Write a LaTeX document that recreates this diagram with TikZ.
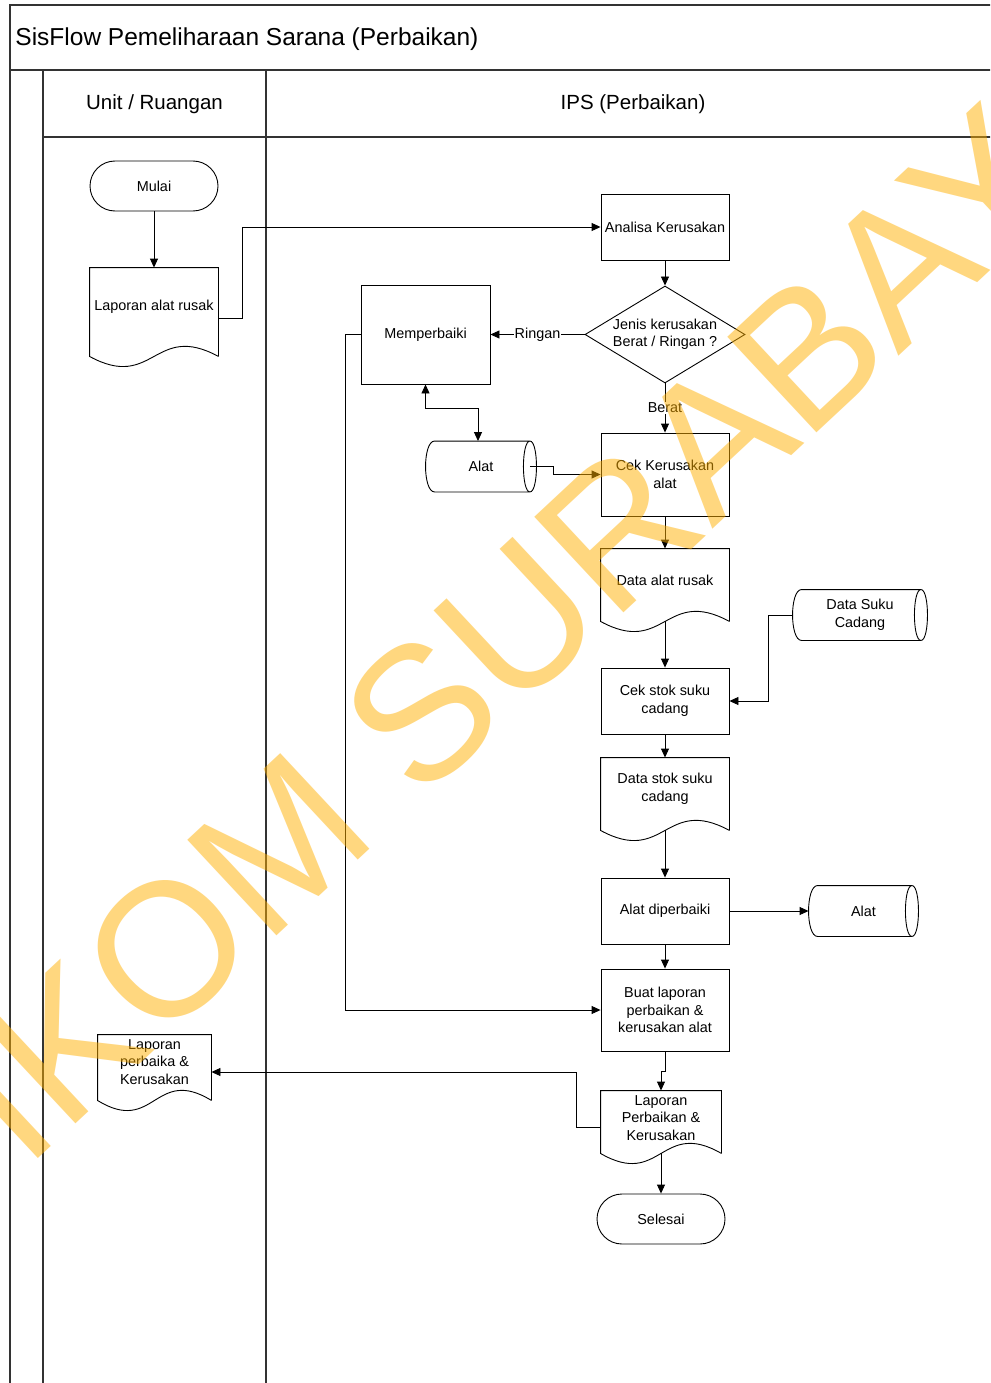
\documentclass[tikz,border=0pt]{standalone}
\usepackage{fontspec}
\setmainfont{Liberation Sans}
\usetikzlibrary{shapes.geometric, arrows.meta, calc}

\definecolor{wmyellow}{RGB}{255,176,0}

\tikzset{
  lane/.style={draw=black!80, line width=1.2pt},
  proc/.style={draw, rectangle, minimum width=128pt, align=center, inner sep=2pt},
  term/.style={draw, rectangle, rounded corners=25pt, minimum width=128pt, minimum height=50pt},
  doc/.style={rectangle, minimum width=128pt, align=center, inner sep=2pt},
  store/.style={rectangle, align=center, minimum height=50pt, inner sep=0pt},
  decide/.style={draw, diamond, aspect=1.65, inner sep=0pt, minimum width=160pt, minimum height=97pt, align=center},
  arr/.style={-{Triangle[length=9pt,width=8pt]}},
  darr/.style={{Triangle[length=9pt,width=8pt]}-{Triangle[length=9pt,width=8pt]}},
  lbl/.style={fill=white, inner sep=1pt},
  wm/.style={text=wmyellow, text opacity=0.5, inner sep=0pt, font=\fontsize{190}{190}\selectfont}
}

% document outline, wavy bottom (#1 = sides below the node)
\newcommand{\docshape}[2][0]{%
  \draw ($(#2.south east)+(0,#1)$) -- (#2.north east) -- (#2.north west) -- ($(#2.south west)+(0,#1)$)
    .. controls ($(#2.south)+(0,#1+35)$) and ($(#2.south)+(0,#1-35)$) .. ($(#2.south east)+(0,#1)$);}
% stored data outline
\newcommand{\storeshape}[1]{%
  \draw ($(#1.north west)+(9,0)$) -- ($(#1.north east)+(-6.5,0)$)
        ($(#1.south west)+(9,0)$) -- ($(#1.south east)+(-6.5,0)$)
        ($(#1.north west)+(9,0)$) .. controls +(-12,0) and +(-12,0) .. ($(#1.south west)+(9,0)$)
        ($(#1.north east)+(-6.5,0)$) .. controls +(8.7,0) and +(8.7,0) .. ($(#1.south east)+(-6.5,0)$)
          .. controls +(-8.7,0) and +(-8.7,0) .. ($(#1.north east)+(-6.5,0)$);}

\begin{document}
\begin{tikzpicture}[x=1pt, y=-1pt, line width=0.9pt, font=\fontsize{14.4}{17.5}\selectfont]
\useasboundingbox (0,0) rectangle (990,1383);
\clip (0,0) rectangle (990,1383);
\fill[white] (0,0) rectangle (990,1383);

% pool and lanes
\draw[lane] (10,1390) -- (10,5) -- (1000,5);
\draw[lane] (10,70) -- (1000,70);
\draw[lane] (43,1390) -- (43,70);
\draw[lane] (266,1390) -- (266,70);
\draw[lane] (43,137) -- (1000,137);
\node[anchor=west, inner sep=0pt, font=\fontsize{24.5}{28}\selectfont] (title) at (15,39) {SisFlow Pemeliharaan Sarana (Perbaikan)};
\node[font=\fontsize{20.5}{24}\selectfont] (laneunit) at (154.5,104.5) {Unit / Ruangan};
\node[font=\fontsize{20.5}{24}\selectfont] (laneips) at (633,104.5) {IPS (Perbaikan)};

% Unit / Ruangan
\node[term] (mulai) at (154,186) {Mulai};
\node[doc, minimum height=78pt] (lapRusak) at (154,307) {Laporan alat rusak};
\docshape[10]{lapRusak}
\node[doc, minimum width=113pt, minimum height=54pt] (lapUnit) at (154.5,1062) {Laporan\\perbaika \&\\Kerusakan};
\docshape[11]{lapUnit}

% IPS
\node[proc, minimum height=66pt] (analisa) at (665,227) {Analisa Kerusakan};
\node[decide] (jenis) at (665,334.5) {Jenis kerusakan\\Berat / Ringan ?};
\node[proc, minimum width=129pt, minimum height=99pt] (perbaiki) at (425.5,334.5) {Memperbaiki};
\node[store, minimum width=110pt] (alatA) at (481,466.5) {Alat};
\storeshape{alatA}
\node[proc, minimum height=83pt] (cekRusak) at (665,474.5) {Cek Kerusakan\\alat};
\node[doc, minimum height=62pt] (dataRusak) at (665,580) {Data alat rusak};
\docshape[10]{dataRusak}
\node[store, minimum width=134pt] (sukuCadang) at (860,615) {Data Suku\\Cadang};
\storeshape{sukuCadang}
\node[proc, minimum height=66pt] (cekStok) at (665,701) {Cek stok suku\\cadang};
\node[doc, minimum height=62pt] (dataStok) at (665,789) {Data stok suku\\cadang};
\docshape[10]{dataStok}
\node[proc, minimum height=66pt] (diperbaiki) at (665,911) {Alat diperbaiki};
\node[store, minimum width=109pt] (alatB) at (863.5,911) {Alat};
\storeshape{alatB}
\node[proc, minimum height=82pt] (buatLap) at (665,1010) {Buat laporan\\perbaikan \&\\kerusakan alat};
\node[doc, minimum width=120pt, minimum height=54pt] (lapIps) at (661,1118) {Laporan\\Perbaikan \&\\Kerusakan};
\docshape[8]{lapIps}
\node[term] (selesai) at (661,1219) {Selesai};

% connectors
\draw[arr] (mulai) -- (lapRusak);
\draw[arr] ([yshift=-11pt]lapRusak.east) -- ++(24,0) |- (analisa.west);
\draw[arr] (analisa) -- (jenis);
\draw[arr] (jenis.west) -- node[lbl] {Ringan} (perbaiki.east);
\draw[arr] (jenis.south) -- node[lbl] {Berat} (cekRusak.north);
\draw[darr] (perbaiki.south) -- ++(0,24) -| ([xshift=-3pt]alatA.north);
\draw[arr] ([xshift=-6.5pt]alatA.east) -- ++(23,0) |- (cekRusak.west);
\draw[arr] (cekRusak) -- (dataRusak);
\draw[arr] ([yshift=-10pt]dataRusak.south) -- (cekStok.north);
\draw[arr] (sukuCadang.west) -- ++(-24,0) |- (cekStok.east);
\draw[arr] (cekStok) -- (dataStok);
\draw[arr] ([yshift=-10pt]dataStok.south) -- (diperbaiki.north);
\draw[arr] (diperbaiki) -- (alatB);
\draw[arr] (diperbaiki) -- (buatLap);
\draw[arr] (perbaiki.west) -- ++(-15,0) |- (buatLap.west);
\draw[arr] (buatLap.south) -- ++(0,20) -| (lapIps.north);
\draw[arr] ([yshift=-9pt]lapIps.west) -- ++(-24,0) |- ([yshift=-10pt]lapUnit.east);
\draw[arr] ([yshift=-8pt]lapIps.south) -- (selesai.north);

% watermark
\node[wm, rotate=43, anchor=base west] (watermark) at (-152,1336) {STIKOM SURABAYA};
\end{tikzpicture}
\end{document}
